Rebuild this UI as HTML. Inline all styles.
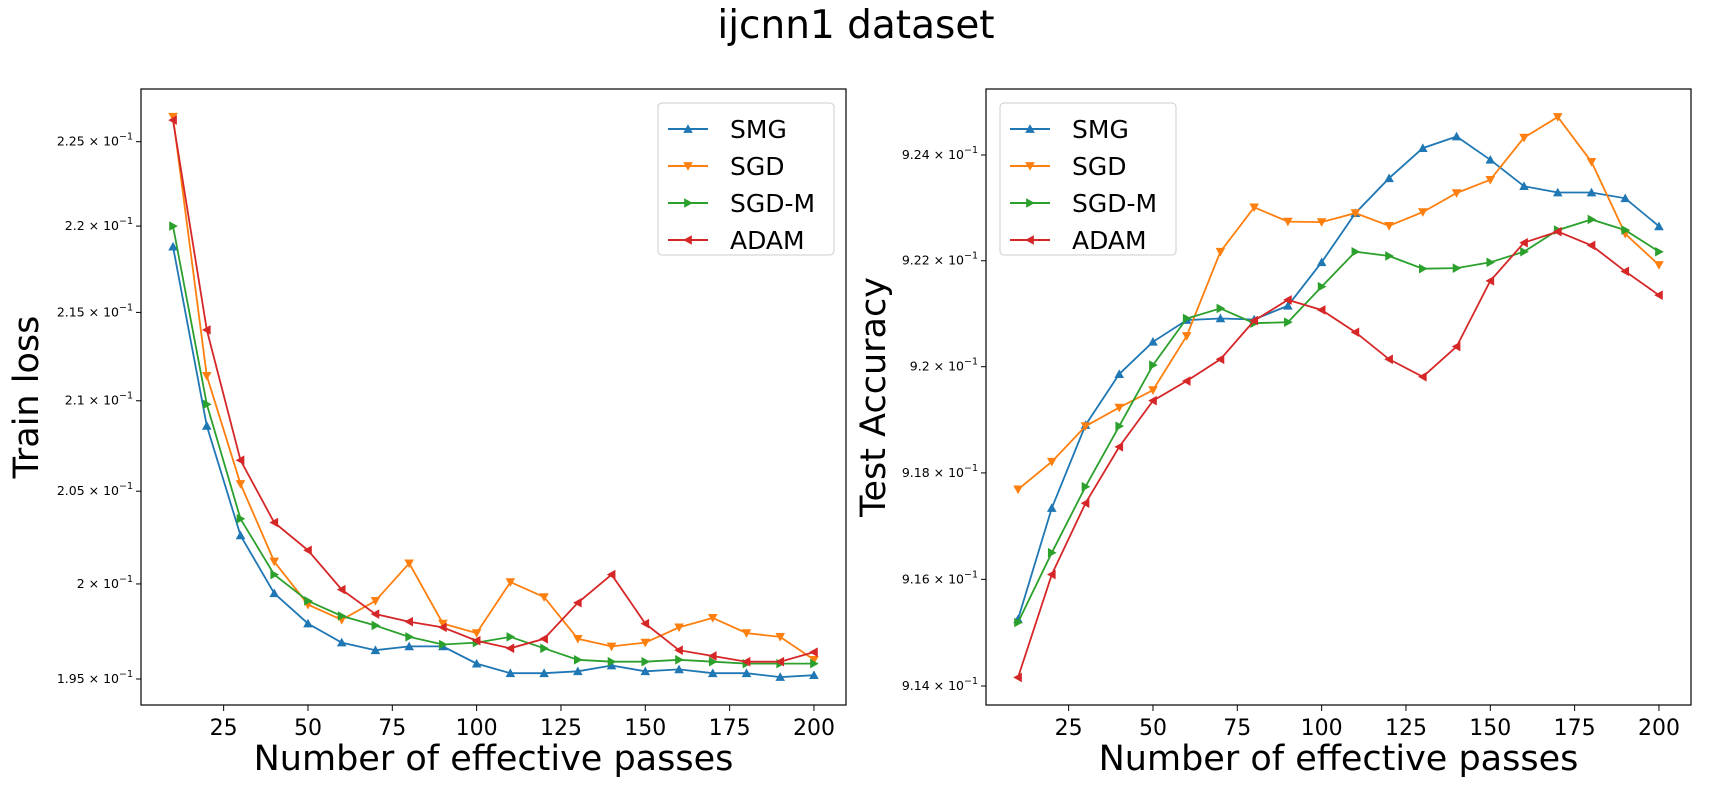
<!DOCTYPE html>
<html><head><meta charset="utf-8"><style>
body{margin:0;background:#fff;}
svg{display:block;font-family:"DejaVu Sans","Liberation Sans",sans-serif;}
</style></head><body>
<svg id="c" width="1713" height="793" viewBox="0 0 1713 793">
<text x="856" y="38" text-anchor="middle" font-size="39">ijcnn1 dataset</text>
</svg>
<script>
const xs=[10,20,30,40,50,60,70,80,90,100,110,120,130,140,150,160,170,180,190,200];
const names=["SMG","SGD","SGD-M","ADAM"];
const colors=["#1f77b4","#ff7f0e","#2ca02c","#d62728"];
const markers=["up","down","right","left"];
const xTicks=[25,50,75,100,125,150,175,200];
const lossSMG=[2.188,2.086,2.026,1.995,1.979,1.969,1.965,1.967,1.967,1.958,1.953,1.953,1.954,1.957,1.954,1.955,1.953,1.953,1.951,1.952];
const lossSGD=[2.265,2.114,2.054,2.012,1.989,1.981,1.991,2.011,1.979,1.974,2.001,1.993,1.971,1.967,1.969,1.977,1.982,1.974,1.972,1.960];
const lossSGDM=[2.200,2.098,2.035,2.005,1.991,1.983,1.978,1.972,1.968,1.969,1.972,1.966,1.960,1.959,1.959,1.960,1.959,1.958,1.958,1.958];
const lossADAM=[2.263,2.140,2.067,2.033,2.018,1.997,1.984,1.980,1.977,1.970,1.966,1.971,1.990,2.005,1.979,1.965,1.962,1.959,1.959,1.964];
const lossTicks=[2.25,2.2,2.15,2.1,2.05,2.0,1.95];
const lossTickLabels=["2.25","2.2","2.15","2.1","2.05","2","1.95"];
const accSMG=[9.1525,9.1734,9.189,9.1986,9.2047,9.2088,9.2091,9.2089,9.2115,9.2197,9.2290,9.2356,9.2413,9.2435,9.2391,9.2341,9.2329,9.2329,9.2318,9.2265];
const accSGD=[9.1769,9.1821,9.1888,9.1923,9.1956,9.2058,9.2217,9.2301,9.2274,9.2273,9.2290,9.2266,9.2292,9.2328,9.2353,9.2433,9.2472,9.2387,9.2251,9.2192];
const accSGDM=[9.1519,9.1650,9.1774,9.1888,9.2003,9.2091,9.2110,9.2082,9.2084,9.2151,9.2217,9.2209,9.2185,9.2186,9.2197,9.2217,9.2258,9.2278,9.2258,9.2217];
const accADAM=[9.1416,9.1609,9.1743,9.1849,9.1936,9.1973,9.2014,9.2087,9.2126,9.2107,9.2065,9.2014,9.1981,9.2038,9.2162,9.2234,9.2255,9.2229,9.2180,9.2135];
const accTicks=[9.24,9.22,9.2,9.18,9.16,9.14];
const accTickLabels=["9.24","9.22","9.2","9.18","9.16","9.14"];

const NS="http://www.w3.org/2000/svg";
const svg=document.getElementById('c');
function mk(tag,attrs,parent){const e=document.createElementNS(NS,tag);for(const k in attrs)e.setAttribute(k,attrs[k]);(parent||svg).appendChild(e);return e;}

function panel(cfg){
  const g=mk('g',{});
  
  
  const L=cfg.L,R=L+705,T=89,B=705;
  const X=v=>L+(v-0.5)/209*(R-L);
  const la=Math.log10(cfg.t1),lb=Math.log10(cfg.t2);
  const Y=v=>cfg.y1+(Math.log10(v)-la)/(lb-la)*(cfg.y2-cfg.y1);
  xTicks.forEach(t=>{
    const x=X(t);
    const tk=mk('line',{x1:x,x2:x,y1:B,y2:B+6,stroke:'#000','stroke-width':1},g);
    
    
    const tx=mk('text',{x:x,y:B+30,'text-anchor':'middle','font-size':22},g);
    tx.textContent=t;
    
    
  });
  cfg.ticks.forEach((t,i)=>{
    const y=Y(t);
    const tk=mk('line',{x1:L-5,x2:L,y1:y,y2:y,stroke:'#000','stroke-width':1},g);
    
    
    const tx=mk('text',{x:L-8,y:y+4,'text-anchor':'end','font-size':12.5},g);
    tx.innerHTML=cfg.labels[i]+' \u00d7 10<tspan dy="-6" font-size="9.5">\u22121</tspan>';
    
    
  });
  cfg.series.forEach((s,k)=>{
    const pts=xs.map((x,i)=>X(x).toFixed(1)+','+Y(s[i]).toFixed(1)).join(' ');
    const pl=mk('polyline',{points:pts,fill:'none',stroke:colors[k],'stroke-width':1.8},g);
    
    
    xs.forEach((x,i)=>{
      const m=marker(X(x),Y(s[i]),markers[k],colors[k],g,4.8);
      
      
    });
  });
  const fr=mk('rect',{x:L,y:T,width:R-L,height:B-T,fill:'none',stroke:'#000','stroke-width':1.2},g);
  
  
  const xl=mk('text',{x:(L+R)/2,y:770,'text-anchor':'middle','font-size':35},g);
  xl.textContent='Number of effective passes';
  
  
  const yl=mk('text',{x:0,y:0,'text-anchor':'middle','font-size':35,transform:'translate('+(cfg.yl)+','+((T+B)/2)+') rotate(-90)'},g);
  yl.textContent=cfg.ytitle;
  
  
  const lg=mk('g',{},g);
  
  
  mk('rect',{x:cfg.lx,y:103,width:176,height:152,rx:4,fill:'#fff',stroke:'#ccc','stroke-width':1},lg);
  names.forEach((n,k)=>{
    const y=129+k*37;
    mk('line',{x1:cfg.lx+10,x2:cfg.lx+50,y1:y,y2:y,stroke:colors[k],'stroke-width':2},lg);
    marker(cfg.lx+30,y,markers[k],colors[k],lg,4.8);
    const t=mk('text',{x:cfg.lx+72,y:y+9,'font-size':25},lg);
    t.textContent=n;
    
    
  });
}
function marker(x,y,type,c,parent,r){
  let p;
  if(type==='up')p=[[x,y-r],[x-r,y+r*0.8],[x+r,y+r*0.8]];
  else if(type==='down')p=[[x,y+r],[x-r,y-r*0.8],[x+r,y-r*0.8]];
  else if(type==='right')p=[[x+r,y],[x-r*0.8,y-r],[x-r*0.8,y+r]];
  else p=[[x-r,y],[x+r*0.8,y-r],[x+r*0.8,y+r]];
  return mk('polygon',{points:p.map(q=>q.join(',')).join(' '),fill:c},parent);
}
panel({name:'train-loss-panel',L:141,t1:2.25,y1:141.7,t2:1.95,y2:679,ticks:lossTicks,labels:lossTickLabels,series:[lossSMG,lossSGD,lossSGDM,lossADAM],ytitle:'Train loss',yl:38,lx:658});
panel({name:'test-accuracy-panel',L:986,t1:9.24,y1:155,t2:9.14,y2:686,ticks:accTicks,labels:accTickLabels,series:[accSMG,accSGD,accSGDM,accADAM],ytitle:'Test Accuracy',yl:885,lx:1000});
</script>
</body></html>
